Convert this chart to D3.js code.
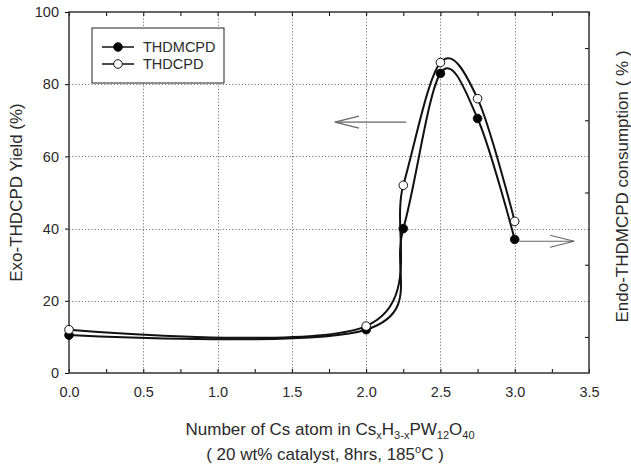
<!DOCTYPE html>
<html>
<head>
<meta charset="utf-8">
<script src="https://cdn.jsdelivr.net/npm/d3@7"></script>
<style>
  body { margin: 0; background: #fff; }
  text { font-family: "Liberation Sans", Arial, sans-serif; fill: #2a2a2a; }
</style>
</head>
<body>
<div id="chart"></div>
<script>
const xValues = [0.0, 2.0, 2.25, 2.5, 2.75, 3.0]
const thdmcpd = [10.5, 12, 40, 83, 70.5, 37]
const thdcpd = [12, 13, 52, 86, 76, 42]
const seriesNames = ['THDMCPD', 'THDCPD']
const xTicks = [0, 0.5, 1, 1.5, 2, 2.5, 3, 3.5]
const yTicks = [0, 20, 40, 60, 80, 100]

const width = 631
const height = 466
const margin = {top: 12, right: 42, bottom: 93, left: 69}

const svg = d3.select('#chart')
    .append('svg')
    .attr('width', width)
    .attr('height', height)

const x = d3.scaleLinear().domain([0, 3.5]).range([margin.left, width - margin.right])
const y = d3.scaleLinear().domain([0, 100]).range([height - margin.bottom, margin.top])

// dotted grid
const grid = svg.append('g')
    .attr('stroke', '#777')
    .attr('stroke-width', 1)
    .attr('stroke-dasharray', '1.2,2')
grid.selectAll('.gx')
    .data(xTicks.filter(d => d > 0 && d < 3.5))
    .join('line')
    .attr('x1', d => Math.round(x(d)) + 0.5)
    .attr('x2', d => Math.round(x(d)) + 0.5)
    .attr('y1', y(100))
    .attr('y2', y(0))
grid.selectAll('.gy')
    .data(yTicks.filter(d => d > 0 && d < 100))
    .join('line')
    .attr('x1', x(0))
    .attr('x2', x(3.5))
    .attr('y1', d => Math.round(y(d)) + 0.5)
    .attr('y2', d => Math.round(y(d)) + 0.5)

// axes
const quarterTicks = d3.range(0, 3.51, 0.25)

svg.append('g')
    .attr('transform', `translate(0,${y(0)})`)
    .call(d3.axisBottom(x).tickValues(quarterTicks).tickSize(-4).tickFormat(''))
    .call(g => g.select('.domain').remove())

svg.append('g')
    .attr('transform', `translate(0,${y(0)})`)
    .call(d3.axisBottom(x).tickValues(xTicks).tickSize(0).tickPadding(14).tickFormat(d3.format('.1f')))
    .call(g => g.select('.domain').remove())
    .call(g => g.selectAll('text').attr('font-size', 14.5).attr('font-family', null))

svg.append('g')
    .attr('transform', `translate(0,${y(100)})`)
    .call(d3.axisTop(x).tickValues(quarterTicks).tickSize(-4).tickFormat(''))
    .call(g => g.select('.domain').remove())

svg.append('g')
    .attr('transform', `translate(${x(0)},0)`)
    .call(d3.axisLeft(y).tickValues(yTicks).tickSize(4).tickPadding(6))
    .call(g => g.select('.domain').remove())
    .call(g => g.selectAll('text').attr('font-size', 14.5).attr('font-family', null))

svg.append('g')
    .attr('transform', `translate(${x(3.5)},0)`)
    .call(d3.axisRight(y).tickValues([10, 30, 50, 70, 90]).tickSize(-4).tickFormat(''))
    .call(g => g.select('.domain').remove())

svg.append('rect')
    .attr('x', x(0))
    .attr('y', y(100))
    .attr('width', x(3.5) - x(0))
    .attr('height', y(0) - y(100))
    .attr('fill', 'none')
    .attr('stroke', '#333')
    .attr('stroke-width', 1.5)

// curves
const line = d3.line()
    .x(d => x(d[0]))
    .y(d => y(d[1]))
    .curve(d3.curveCatmullRom.alpha(0))

const series = [
    {name: seriesNames[0], values: xValues.map((v, i) => [v, thdmcpd[i]]), fill: '#000'},
    {name: seriesNames[1], values: xValues.map((v, i) => [v, thdcpd[i]]), fill: '#fff'}
]

for (const s of series) {
    svg.append('path')
        .datum(s.values)
        .attr('d', line)
        .attr('fill', 'none')
        .attr('stroke', '#111')
        .attr('stroke-width', 2)
}
for (const s of series) {
    svg.append('g')
        .selectAll('circle')
        .data(s.values)
        .join('circle')
        .attr('cx', d => x(d[0]))
        .attr('cy', d => y(d[1]))
        .attr('r', 4.3)
        .attr('fill', s.fill)
        .attr('stroke', '#111')
        .attr('stroke-width', 1)
}

// arrows pointing at the axes
function arrow(x1, x2, yv) {
    const dir = Math.sign(x2 - x1)
    const g = svg.append('g')
        .attr('stroke', '#666')
        .attr('stroke-width', 1.2)
        .attr('fill', 'none')
    g.append('line')
        .attr('x1', x(x1)).attr('x2', x(x2))
        .attr('y1', y(yv)).attr('y2', y(yv))
    g.append('polyline')
        .attr('points', [
            [x(x2) - dir * 24, y(yv) - 6],
            [x(x2), y(yv)],
            [x(x2) - dir * 24, y(yv) + 6]
        ].join(' '))
}
arrow(2.27, 1.79, 69.5)
arrow(3.03, 3.4, 36.5)

// legend
const legend = svg.append('g').attr('transform', 'translate(92,28)')
legend.append('rect')
    .attr('width', 132)
    .attr('height', 55)
    .attr('fill', '#fff')
    .attr('stroke', '#222')
    .attr('stroke-width', 1)
series.forEach((s, i) => {
    const row = legend.append('g').attr('transform', `translate(0,${19 + i * 17})`)
    row.append('line')
        .attr('x1', 10).attr('x2', 42)
        .attr('stroke', '#111').attr('stroke-width', 1.5)
    row.append('circle')
        .attr('cx', 26).attr('r', 4.3)
        .attr('fill', s.fill).attr('stroke', '#111')
    row.append('text')
        .attr('x', 51).attr('dy', '0.36em')
        .attr('font-size', 14.5)
        .text(s.name)
})

// axis titles
svg.append('text')
    .attr('transform', `translate(22,${(y(0) + y(100)) / 2}) rotate(-90)`)
    .attr('text-anchor', 'middle')
    .attr('font-size', 17)
    .text('Exo-THDCPD Yield (%)')

svg.append('text')
    .attr('transform', `translate(628,${(y(0) + y(100)) / 2 - 6}) rotate(-90)`)
    .attr('text-anchor', 'middle')
    .attr('font-size', 17)
    .text('Endo-THDMCPD consumption ( % )')

const xt = svg.append('text')
    .attr('x', 330)
    .attr('y', 435)
    .attr('text-anchor', 'middle')
    .attr('font-size', 17)
xt.append('tspan').text('Number of Cs atom in Cs')
xt.append('tspan').attr('font-size', 11).attr('dy', 4).text('x')
xt.append('tspan').attr('dy', -4).text('H')
xt.append('tspan').attr('font-size', 11).attr('dy', 4).text('3-x')
xt.append('tspan').attr('dy', -4).text('PW')
xt.append('tspan').attr('font-size', 11).attr('dy', 4).text('12')
xt.append('tspan').attr('dy', -4).text('O')
xt.append('tspan').attr('font-size', 11).attr('dy', 4).text('40')

const xt2 = svg.append('text')
    .attr('x', 325)
    .attr('y', 460)
    .attr('text-anchor', 'middle')
    .attr('font-size', 17)
xt2.append('tspan').text('( 20 wt% catalyst, 8hrs, 185')
xt2.append('tspan').attr('font-size', 11).attr('dy', -7).text('o')
xt2.append('tspan').attr('dy', 7).text('C )')
</script>
</body>
</html>
